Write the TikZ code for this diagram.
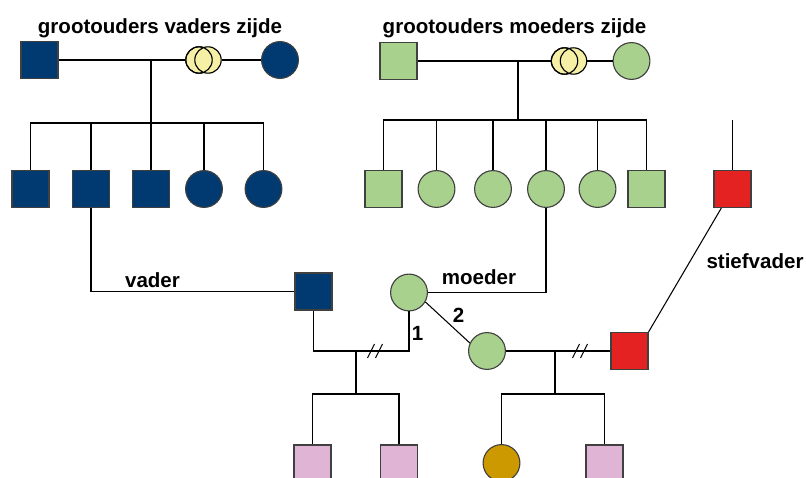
\documentclass[tikz,border=0pt]{standalone}
\usepackage{fontspec}
\setmainfont{Liberation Sans}
\usepackage{tikz}
\usepackage{xcolor}

\definecolor{navy}{RGB}{0,58,112}
\definecolor{leaf}{RGB}{169,209,142}
\definecolor{ringyellow}{RGB}{245,240,165}
\definecolor{stepred}{RGB}{228,34,34}
\definecolor{pinkkid}{RGB}{224,180,212}
\definecolor{goldkid}{RGB}{204,153,0}

\begin{document}
\begin{tikzpicture}[x=0.025cm, y=-0.025cm,
    man/.style={rectangle, draw=black!75, line width=0.8pt, minimum size=0.925cm, inner sep=0pt},
    woman/.style={circle, draw=black!75, line width=0.8pt, minimum size=0.92cm, inner sep=0pt},
    ring/.style={circle, draw=black, line width=0.8pt, fill=ringyellow, minimum size=0.66cm, inner sep=0pt},
    link/.style={draw=black, line width=0.75pt},
    lbl/.style={font=\bfseries\fontsize{14.6}{17}\selectfont, anchor=base, inner sep=0pt}
]
\useasboundingbox (0,0) rectangle (806,478);

% grandparents, father's side
\node[man, fill=navy] (pgf) at (39.5,60) {};
\node[ring] (pring1) at (199,60) {};
\node[ring] (pring2) at (208,60) {};
\node[ring, fill=none] at (199,60) {};
\node[woman, fill=navy] (pgm) at (280,60) {};
\node[lbl] (ptitle) at (160,33.5) {grootouders vaders zijde};

\coordinate (pc) at (151,60);
\coordinate (pj) at (151,123);

\node[man, fill=navy] (pc1) at (30.5,189) {};
\node[man, fill=navy] (pc2) at (91,189) {};
\node[man, fill=navy] (pc3) at (151,189) {};
\node[woman, fill=navy] (pc4) at (204,189) {};
\node[woman, fill=navy] (pc5) at (263.5,189) {};

\draw[link] (pgf) -- (pring1);
\draw[link] (pring2) -- (pgm);
\draw[link] (pc) -- (pj);
\draw[link] (pc1) |- (pj) -| (pc5);
\draw[link] (pc2) -- (pc2 |- pj);
\draw[link] (pc3) -- (pj);
\draw[link] (pc4) -- (pc4 |- pj);

% grandparents, mother's side
\node[man, fill=leaf] (mgf) at (398.5,61) {};
\node[ring] (mring1) at (564.5,61) {};
\node[ring] (mring2) at (573.5,61) {};
\node[ring, fill=none] at (564.5,61) {};
\node[woman, fill=leaf] (mgm) at (631.5,61) {};
\node[lbl] (mtitle) at (514.5,33.5) {grootouders moeders zijde};

\coordinate (mc) at (518,61);
\coordinate (mj) at (518,120);

\node[man, fill=leaf] (mc1) at (383.5,189) {};
\node[woman, fill=leaf] (mc2) at (436.5,189) {};
\node[woman, fill=leaf] (mc3) at (493,189) {};
\node[woman, fill=leaf] (mc4) at (546,189) {};
\node[woman, fill=leaf] (mc5) at (597.5,189) {};
\node[man, fill=leaf] (mc6) at (646.5,189) {};

\draw[link] (mgf) -- (mring1);
\draw[link] (mring2) -- (mgm);
\draw[link] (mc) -- (mj);
\draw[link] (mc1) |- (mj) -| (mc6);
\draw[link] (mc2) -- (mc2 |- mj);
\draw[link] (mc3) -- (mc3 |- mj);
\draw[link] (mc4) -- (mc4 |- mj);
\draw[link] (mc5) -- (mc5 |- mj);

% stepfather's line
\node[man, fill=stepred] (svtop) at (732.5,189) {};
\coordinate (svroot) at (732.5,120);
\draw[link] (svtop) -- (svroot);

% parents
\node[man, fill=navy] (father) at (313.5,291.5) {};
\node[woman, fill=leaf] (mother) at (409,292.5) {};
\node[woman, fill=leaf] (mother2) at (487,351) {};
\node[man, fill=stepred] (stepdad) at (629.5,351) {};

\draw[link] (pc2) |- (father);
\draw[link] (mother) -| (mc4);
\node[lbl] (vlabel) at (152.5,287) {vader};
\node[lbl] (mlabel) at (479,284) {moeder};

\draw[link] (mother.-30) -- (mother2.155);
\draw[link] (stepdad.north east) -- (svtop);
\node[lbl] (svlabel) at (755,268) {stiefvader};
\node[lbl] (n1) at (417.5,340) {1};
\node[lbl] (n2) at (458.5,322) {2};

% first marriage
\coordinate (wed1) at (356,351);
\coordinate (kids1) at (356,394);
\coordinate (cut1) at (375,351);
\draw[link] (father) |- (wed1) -| (mother);
\draw[link] (wed1) -- (kids1);
\draw[link] ([shift={(-7.5,7)}]cut1) -- ++(7,-14);
\draw[link] ([shift={(0.5,7)}]cut1) -- ++(7,-14);

\node[man, fill=pinkkid] (k1) at (312.5,463.5) {};
\node[man, fill=pinkkid] (k2) at (399,463.5) {};
\draw[link] (k1) |- (kids1) -| (k2);

% second marriage
\coordinate (wed2) at (555,351);
\coordinate (kids2) at (555,394);
\coordinate (cut2) at (580,351);
\draw[link] (mother2) -- (stepdad);
\draw[link] (wed2) -- (kids2);
\draw[link] ([shift={(-7.5,7)}]cut2) -- ++(7,-14);
\draw[link] ([shift={(0.5,7)}]cut2) -- ++(7,-14);

\node[woman, fill=goldkid] (k3) at (501.5,463) {};
\node[man, fill=pinkkid] (k4) at (604.5,463.5) {};
\draw[link] (k3) |- (kids2) -| (k4);
\end{tikzpicture}
\end{document}
